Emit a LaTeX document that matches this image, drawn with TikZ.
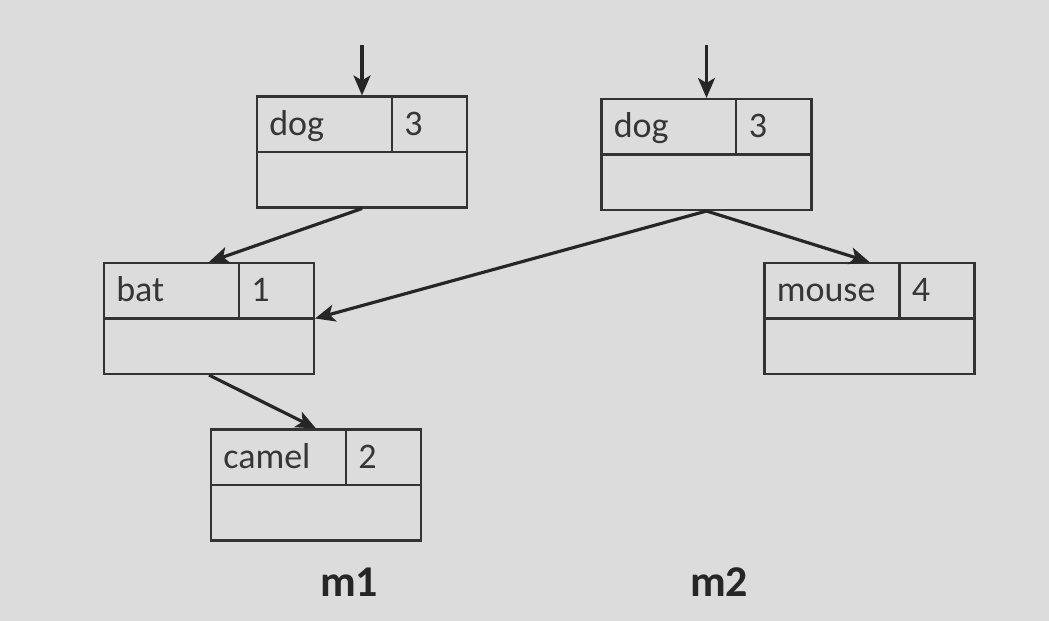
\documentclass[tikz,border=0pt]{standalone}
\usepackage{fontspec}
\setmainfont{Carlito}
\usepackage{xcolor}
\usepackage{tikz}
\usetikzlibrary{arrows.meta}

\definecolor{slidegray}{HTML}{DCDCDC}
\definecolor{boxgray}{HTML}{333333}
\definecolor{textgray}{HTML}{363636}

\tikzset{
  treebox/.style={draw=boxgray, line width=1.2pt, minimum width=4.2cm, minimum height=2.22cm, inner sep=0pt},
  boxline/.style={draw=boxgray, line width=1.2pt},
  keytext/.style={anchor=base west, inner sep=0pt, text=textgray, font=\fontsize{20.5}{24}\selectfont},
  link/.style={-{Stealth[length=4mm, width=3.4mm, inset=1mm]}, line width=1.8pt, draw=black!85},
  maplabel/.style={font=\fontsize{25}{30}\selectfont\bfseries, text=black!85, anchor=base}
}

% one map entry: name, centre, key, value
\newcommand{\mapbox}[4]{
  \node[treebox] (#1) at #2 {};
  \draw[boxline] (#1.west) -- (#1.east);
  \draw[boxline] ([xshift=2.72cm]#1.north west) -- ([xshift=2.72cm]#1.west);
  \node[keytext] (#1key) at ([xshift=0.26cm, yshift=-0.8cm]#1.north west) {#3};
  \node[keytext] (#1val) at ([xshift=2.96cm, yshift=-0.8cm]#1.north west) {#4};
}

\begin{document}
\begin{tikzpicture}[x=0.02cm, y=-0.02cm]
  \fill[slidegray] (0,0) rectangle (1049,621);
  \useasboundingbox (0,0) rectangle (1049,621);

  % tree m1
  \mapbox{dogA}{(362,152)}{dog}{3}
  \mapbox{bat}{(209,318.5)}{bat}{1}
  \mapbox{camel}{(316,485)}{camel}{2}

  % tree m2
  \mapbox{dogB}{(706.5,154.5)}{dog}{3}
  \mapbox{mouse}{(869.5,318.5)}{mouse}{4}

  \coordinate (rootA) at (362,45);
  \coordinate (rootB) at (706.5,45);

  \draw[link] (rootA) -- (dogA.north);
  \draw[link] (rootB) -- (dogB.north);
  \draw[link] (dogA.south) -- (bat.north);
  \draw[link] (bat.south) -- (camel.north);
  \draw[link] (dogB.south) -- (bat.east);
  \draw[link] (dogB.south) -- (mouse.north);

  \node[maplabel] (mA) at (349,597) {m1};
  \node[maplabel] (mB) at (719,597) {m2};
\end{tikzpicture}
\end{document}
